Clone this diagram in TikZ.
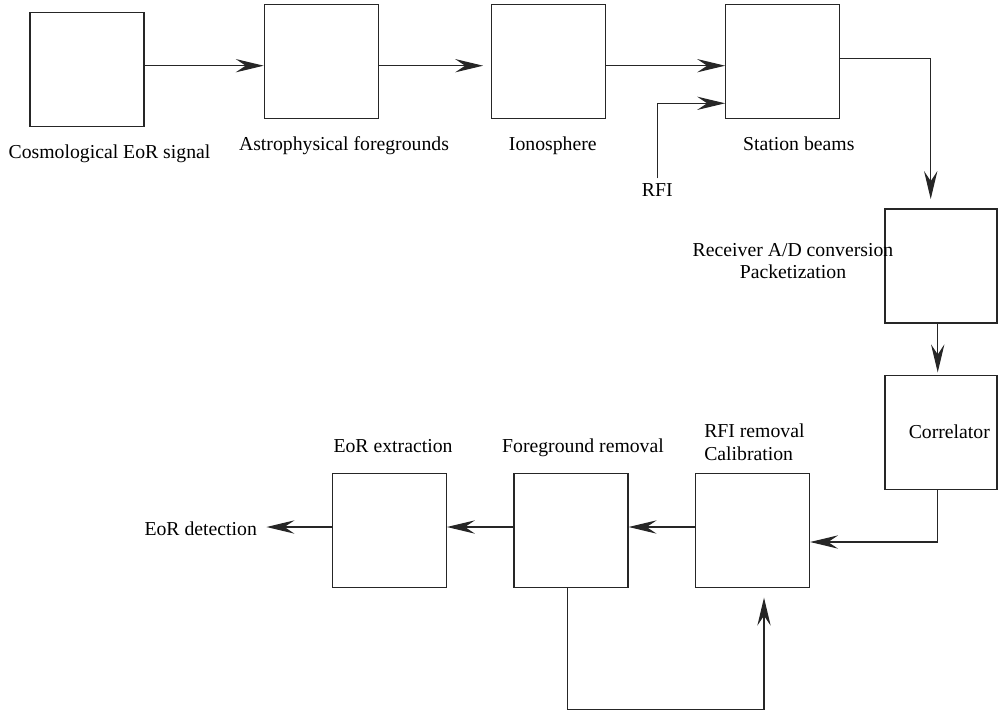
\documentclass[tikz,border=0pt]{standalone}
\usepackage{fontspec}
\setmainfont{Liberation Serif}
\usetikzlibrary{arrows.meta,calc}
\begin{document}
\begin{tikzpicture}[x=0.75pt,y=-0.75pt,
  box/.style={draw=black!85, line width=0.9pt, minimum width=85.5pt, minimum height=85.5pt, inner sep=0pt},
  nbox/.style={box, minimum width=84pt},
  lbl/.style={inner sep=0pt, font=\fontsize{14.8}{17}\selectfont},
  arr/.style={draw=black!85, line width=0.9pt, -{Stealth[length=21pt,width=10pt,inset=7.5pt]}}]
\useasboundingbox (0,0) rectangle (998,710);
% boxes
\node[box] (b1) at (87,69.7) {};
\node[box] (b2) at (321.3,61.7) {};
\node[box] (b3) at (548.7,61.7) {};
\node[box] (b4) at (782.7,61.7) {};
\node[nbox] (b5) at (941,266) {};
\node[nbox] (b6) at (941,432.7) {};
\node[box] (b7) at (752.5,530.7) {};
\node[box] (b8) at (571,530.7) {};
\node[box] (b9) at (389.3,530.7) {};
% labels
\node[lbl, anchor=base] (l1) at (109.5,158.5) {Cosmological EoR signal};
\node[lbl, anchor=base] (l2) at (344,150.5) {Astrophysical foregrounds};
\node[lbl, anchor=base] (l3) at (552.8,150.5) {Ionosphere};
\node[lbl, anchor=base] (l4) at (798.8,150.5) {Station beams};
\node[lbl, anchor=base] (rfi) at (657.3,196.5) {RFI};
\node[lbl, align=center] (l5) at (793,261) {Receiver A/D conversion\\Packetization};
\node[lbl, anchor=base] (l6) at (949.3,438.2) {Correlator};
\node[lbl, align=left, anchor=west] (l7) at (704,442) {RFI removal\\Calibration};
\node[lbl, anchor=base] (l8) at (583,452.5) {Foreground removal};
\node[lbl, anchor=base] (l9) at (393,452.5) {EoR extraction};
\node[lbl, anchor=base] (det) at (200.7,535.8) {EoR detection};
% connectors
\draw[arr] ($(b1.east)+(0,-4)$) -- ($(b2.west)+(0,4)$);
\draw[arr, shorten >=6pt] ($(b2.east)+(0,4)$) -- ($(b3.west)+(0,4)$);
\draw[arr] ($(b3.east)+(0,4)$) -- ($(b4.west)+(0,4)$);
\draw[arr] ($(rfi.north)+(0,-5)$) |- ($(b4.west)+(0,41.6)$);
\draw[arr, shorten >=7pt] ($(b4.east)+(0,-3.4)$) -| ($(b5.north)+(-10.3,0)$);
\draw[arr, shorten >=2pt] ($(b5.south)+(-3.3,0)$) -- ($(b6.north)+(-3.3,0)$);
\draw[arr] ($(b6.south)+(-3.3,0)$) |- ($(b7.east)+(0,11.3)$);
\draw[arr] ($(b7.west)+(0,-3.7)$) -- ($(b8.east)+(0,-3.7)$);
\draw[arr] ($(b8.west)+(0,-3.7)$) -- ($(b9.east)+(0,-3.7)$);
\coordinate (c9) at ($(b9.west)+(0,-3.7)$);
\draw[arr, shorten >=7pt] (c9) -- (det.east |- c9);
\draw[arr, shorten >=7pt] ($(b8.south)+(-3.7,0)$) -- ++(0,121) -| ($(b7.south)+(11.5,0)$);
\end{tikzpicture}
\end{document}
